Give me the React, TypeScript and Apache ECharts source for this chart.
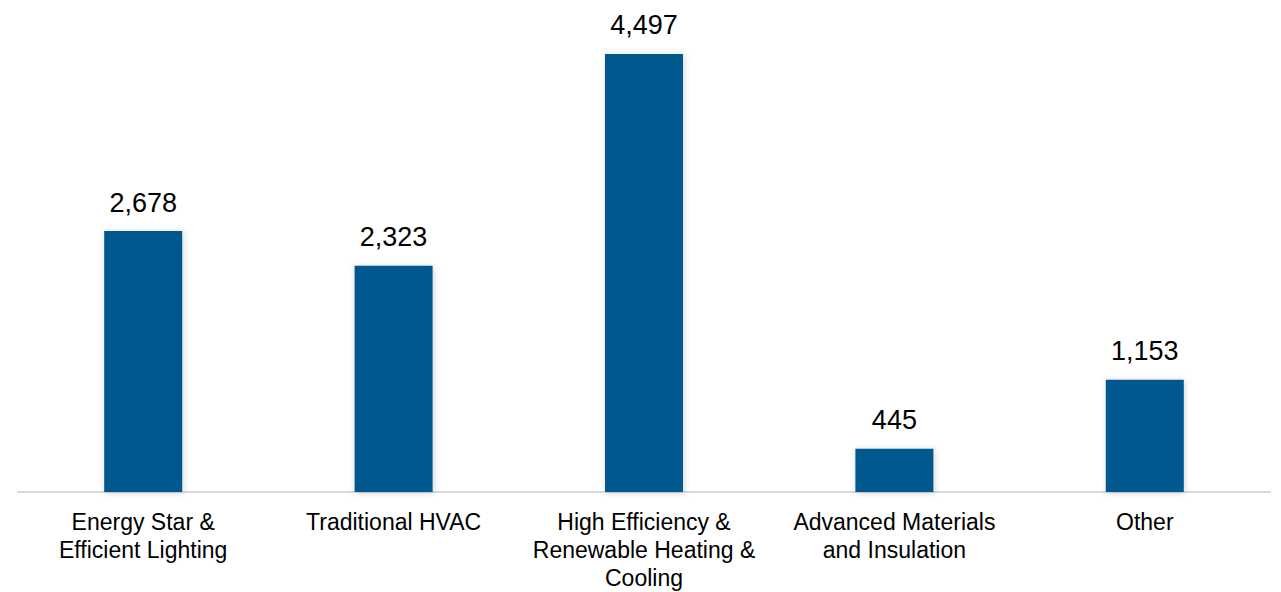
import React, { useEffect, useRef } from "react";
import * as echarts from "echarts";

const categories = [
  "Energy Star &\nEfficient Lighting",
  "Traditional HVAC",
  "High Efficiency &\nRenewable Heating &\nCooling",
  "Advanced Materials\nand Insulation",
  "Other",
];
const values = [2678, 2323, 4497, 445, 1153];

export default function App() {
  const ref = useRef<HTMLDivElement>(null);
  useEffect(() => {
    if (!ref.current) return;
    const chart = echarts.init(ref.current, null, { renderer: "svg" });
    chart.setOption({
      animation: false,
      backgroundColor: "#ffffff",
      grid: { left: 18, right: 11, top: 0, bottom: 97, containLabel: false },
      xAxis: {
        type: "category",
        data: categories,
        axisLine: { show: true, lineStyle: { color: "#d9d9d9", width: 2 } },
        axisTick: { show: false },
        axisLabel: {
          interval: 0,
          color: "#000000",
          fontFamily: "Liberation Sans, Arial, sans-serif",
          fontSize: 23,
          lineHeight: 28,
          margin: 16,
        },
      },
      yAxis: {
        type: "value",
        min: 0,
        max: 5050,
        show: false,
        splitLine: { show: false },
      },
      series: [
        {
          type: "bar",
          data: values,
          barWidth: 78,
          itemStyle: {
            color: "#00598E",
            shadowBlur: 6,
            shadowColor: "rgba(0,0,0,0.18)",
            shadowOffsetX: 1,
            shadowOffsetY: 1,
          },
          label: {
            show: true,
            position: "top",
            distance: 15,
            color: "#000000",
            fontFamily: "Liberation Sans, Arial, sans-serif",
            fontSize: 27,
            formatter: (p: any) => p.value.toLocaleString("en-US"),
          },
        },
      ],
    });
    return () => chart.dispose();
  }, []);
  return <div ref={ref} style={{ width: 1281, height: 592, position: "absolute", left: 0, top: 0 }} />;
}
